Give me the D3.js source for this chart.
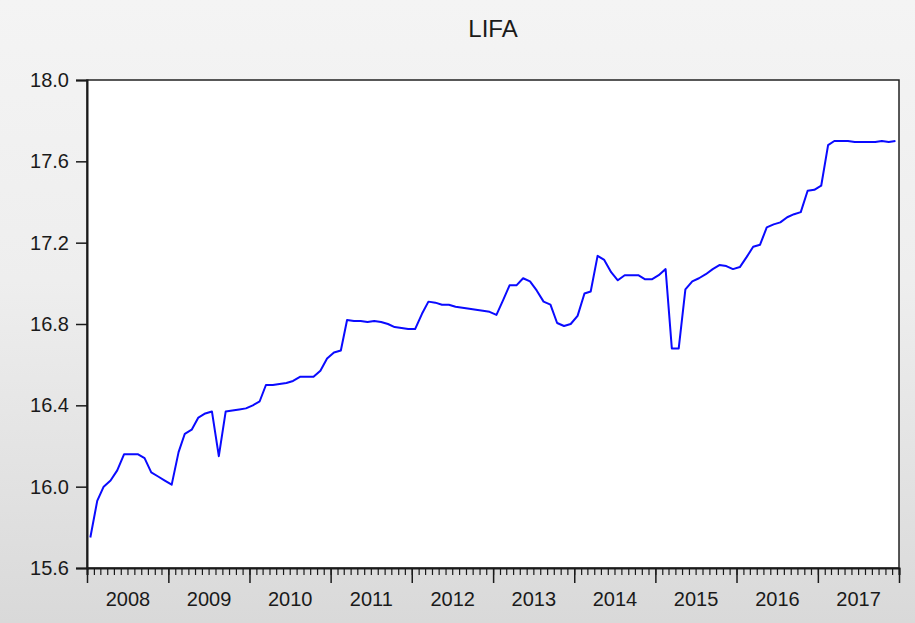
<!DOCTYPE html>
<html>
<head>
<meta charset="utf-8">
<script src="https://cdn.jsdelivr.net/npm/d3@7"></script>
<style>
  html, body { margin: 0; padding: 0; }
  body { width: 915px; height: 623px; overflow: hidden; }
  text { font-family: Arial, "Liberation Sans", sans-serif; fill: #1a1a1a; }
</style>
</head>
<body>
<div id="chart"></div>
<script>
// LIFA, monthly 2008M01 - 2017M12
var startYear = 2008
var endYear = 2018
var yTicks = [15.6, 16.0, 16.4, 16.8, 17.2, 17.6, 18.0]
var lifa = [
  15.75, 15.93, 16.00, 16.03, 16.08, 16.16, 16.16, 16.16, 16.14, 16.07, 16.05, 16.03,
  16.01, 16.17, 16.26, 16.28, 16.34, 16.36, 16.37, 16.15, 16.37, 16.375, 16.38, 16.385,
  16.40, 16.42, 16.50, 16.50, 16.505, 16.51, 16.52, 16.54, 16.54, 16.54, 16.57, 16.63,
  16.66, 16.67, 16.82, 16.815, 16.815, 16.81, 16.815, 16.81, 16.80, 16.785, 16.78, 16.775,
  16.775, 16.85, 16.91, 16.905, 16.895, 16.895, 16.885, 16.88, 16.875, 16.87, 16.865, 16.86,
  16.845, 16.92, 16.99, 16.99, 17.025, 17.01, 16.965, 16.91, 16.895, 16.805, 16.79, 16.80,
  16.84, 16.95, 16.96, 17.135, 17.115, 17.055, 17.015, 17.04, 17.04, 17.04, 17.02, 17.02,
  17.04, 17.07, 16.68, 16.68, 16.97, 17.01, 17.025, 17.045, 17.07, 17.09, 17.085, 17.07,
  17.08, 17.13, 17.18, 17.19, 17.275, 17.29, 17.30, 17.325, 17.34, 17.35, 17.455, 17.46,
  17.48, 17.68, 17.70, 17.70, 17.70, 17.695, 17.695, 17.695, 17.695, 17.70, 17.695, 17.70
]

var width = 915, height = 623
var margin = {top: 80, right: 16, bottom: 55, left: 87}
var innerW = width - margin.left - margin.right,
    innerH = height - margin.top - margin.bottom

var svg = d3.select('#chart').append('svg')
    .attr('width', width)
    .attr('height', height)

var grad = svg.append('defs').append('linearGradient')
    .attr('id', 'bg')
    .attr('x1', 0).attr('y1', 0).attr('x2', 0).attr('y2', 1)
grad.append('stop').attr('offset', '0%').attr('stop-color', '#f4f4f4')
grad.append('stop').attr('offset', '45%').attr('stop-color', '#eeeeee')
grad.append('stop').attr('offset', '100%').attr('stop-color', '#d9d9d9')

svg.append('rect')
    .attr('width', width).attr('height', height)
    .attr('fill', 'url(#bg)')

var data = lifa.map(function(v, i){
  return {date: new Date(startYear, i, 16), val: v}
})

var x = d3.scaleTime()
    .domain([new Date(startYear, 0, 1), new Date(endYear, 0, 1)])
    .range([0, innerW])
var y = d3.scaleLinear()
    .domain([yTicks[0], yTicks[yTicks.length - 1]])
    .range([innerH, 0])

var g = svg.append('g')
    .attr('transform', 'translate(' + margin.left + ',' + margin.top + ')')

g.append('rect')
    .attr('width', innerW).attr('height', innerH)
    .attr('fill', '#fff')
    .attr('stroke', '#222')
    .attr('stroke-width', 1.5)

// y axis
var yAxis = g.append('g')
    .call(d3.axisLeft(y).tickValues(yTicks).tickFormat(d3.format('.1f')).tickSize(11).tickPadding(7))
yAxis.select('.domain').attr('stroke', '#1a1a1a').attr('stroke-width', 2)
yAxis.selectAll('.tick line').attr('stroke', '#1a1a1a').attr('stroke-width', 1.5)
yAxis.selectAll('.tick text')
    .style('font-size', '20px')
    .style('font-family', 'Arial, "Liberation Sans", sans-serif')
    .attr('fill', '#111')

// x axis: monthly minor ticks, yearly major ticks
var months = d3.timeMonth.range(new Date(startYear, 0, 1), new Date(endYear, 0, 2))
var years = d3.timeYear.range(new Date(startYear, 0, 1), new Date(endYear, 0, 2))

var xMinor = g.append('g')
    .attr('transform', 'translate(0,' + innerH + ')')
    .call(d3.axisBottom(x).tickValues(months).tickSize(7).tickFormat(''))
xMinor.select('.domain').attr('stroke', '#1a1a1a').attr('stroke-width', 2)
xMinor.selectAll('.tick line').attr('stroke', '#1a1a1a').attr('stroke-width', 1.2)

var xMajor = g.append('g')
    .attr('transform', 'translate(0,' + innerH + ')')
    .call(d3.axisBottom(x).tickValues(years).tickSize(15).tickFormat(''))
xMajor.select('.domain').remove()
xMajor.selectAll('.tick line').attr('stroke', '#1a1a1a').attr('stroke-width', 1.5)

var midYears = d3.range(startYear, endYear).map(function(yr){ return new Date(yr, 6, 1) })
var xLabels = g.append('g')
    .attr('transform', 'translate(0,' + innerH + ')')
    .call(d3.axisBottom(x).tickValues(midYears).tickSize(0).tickPadding(24)
      .tickFormat(d3.timeFormat('%Y')))
xLabels.select('.domain').remove()
xLabels.selectAll('.tick text')
    .style('font-size', '20px')
    .style('font-family', 'Arial, "Liberation Sans", sans-serif')
    .attr('fill', '#111')

// series line
var line = d3.line()
    .x(function(d){ return x(d.date) })
    .y(function(d){ return y(d.val) })

g.append('path')
    .datum(data)
    .attr('fill', 'none')
    .attr('stroke', '#0a0aff')
    .attr('stroke-width', 2)
    .attr('stroke-linejoin', 'round')
    .attr('d', line)

// title
svg.append('text')
    .attr('x', margin.left + innerW / 2)
    .attr('y', 37)
    .attr('text-anchor', 'middle')
    .style('font-size', '24px')
    .text('LIFA')
</script>
</body>
</html>
